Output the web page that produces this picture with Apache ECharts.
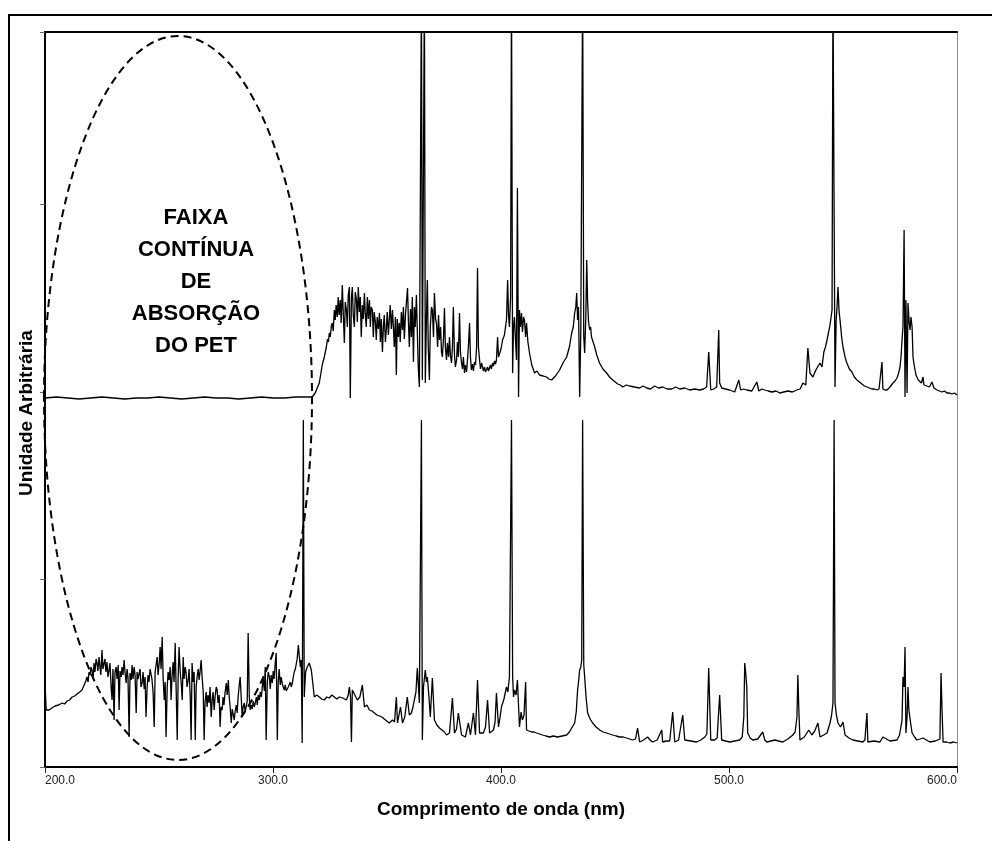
<!DOCTYPE html>
<html>
<head>
<meta charset="utf-8">
<title>Espectro</title>
<script src="https://cdn.jsdelivr.net/npm/echarts@6/dist/echarts.min.js"></script>
<style>
  html, body { margin: 0; padding: 0; background: #fff; }
  #chart { width: 992px; height: 841px; }
</style>
</head>
<body>
<div id="chart"></div>
<script>
// Lamp spectrum seen through the PET film: [wavelength nm, intensity a.u.]
const withPetFilm = [
  [200.0,369],[205,370],[210,369],[215,368],[220,369],[225,370],[230,369],[235,368],[240,369],
  [245,369],[250,370],[255,369],[260,368],[265,369],[270,370],[275,369],[280,369],[285,368],
  [290,369],[295,370],[300,369],[305,369],[310,370],[314,370],[317.2,370],[318.5,374],
  [320.3,384],[321.6,402],[322.5,410],[323.4,420],[323.9,428],[324.3,425],[324.7,434],[325.1,430],
  [325.6,441],[326.0,444],[326.4,436],[326.9,457],[327.3,447],[327.7,462],[328.2,450],[328.6,470],
  [329.0,452],[329.5,467],[329.9,444],[330.4,482],[330.8,455],[331.3,424],[331.7,465],[332.2,457],
  [332.6,440],[333.0,472],[333.5,480],[333.9,369],[334.4,470],[334.8,480],[335.2,452],[335.7,440],
  [336.1,475],[336.6,467],[337.0,445],[337.4,480],[337.9,455],[338.3,470],[338.7,430],[339.2,462],
  [339.6,448],[340.1,474],[340.5,452],[340.9,440],[341.4,470],[341.8,448],[342.3,467],[342.7,440],
  [343.1,460],[343.6,457],[344.0,430],[344.4,455],[344.9,445],[345.3,427],[345.7,450],[346.2,438],
  [346.7,454],[347.1,425],[347.5,448],[348.0,415],[348.4,440],[348.8,452],[349.3,425],[349.7,437],
  [350.1,455],[350.6,432],[351.0,447],[351.4,462],[351.9,438],[352.4,457],[352.8,440],[353.2,420],
  [353.7,450],[354.1,392],[354.5,448],[355.0,430],[355.4,444],[355.8,425],[356.3,455],[356.8,437],
  [357.2,460],[357.6,428],[358.1,452],[358.5,450],[359.0,479],[359.4,445],[359.8,420],[360.3,458],
  [360.7,430],[361.1,470],[361.6,405],[362.0,460],[362.4,440],[362.9,472],[363.3,474],[363.7,400],
  [364.2,380],[365.1,780],[365.5,387],[366.4,780],[366.8,384],[367.3,450],[367.7,487],[368.1,420],
  [368.6,387],[369.0,440],[369.5,460],[369.9,457],[370.4,430],[370.8,474],[371.3,448],[371.7,444],
  [372.2,420],[372.6,452],[373.0,427],[373.5,440],[373.9,415],[374.3,410],[374.8,430],[375.2,459],
  [375.6,420],[376.1,407],[376.5,424],[377.0,410],[377.4,430],[377.8,412],[378.3,404],[378.7,420],
  [379.1,460],[379.6,412],[380.0,400],[380.5,407],[380.9,425],[381.3,410],[381.8,454],[382.2,415],
  [382.7,404],[383.1,398],[383.5,410],[384.0,394],[384.4,402],[384.9,395],[385.3,397],[385.7,420],
  [386.2,444],[386.6,410],[387.0,397],[387.5,403],[387.9,396],[388.4,405],[388.8,402],[389.3,420],
  [389.7,499],[390.1,420],[390.6,407],[391.0,398],[391.5,404],[391.9,404],[392.3,396],[392.8,400],
  [393.2,395],[393.6,397],[394.1,400],[394.5,396],[395.0,397],[395.4,402],[395.8,398],[396.3,404],
  [396.7,401],[397.2,406],[397.6,403],[398.0,407],[398.5,430],[398.9,410],[399.3,412],[400.0,418],
  [400.7,427],[401.5,432],[402.4,447],[402.9,487],[403.3,452],[403.7,440],[404.2,470],[404.6,780],
  [405.1,394],[405.5,440],[405.9,450],[406.3,430],[406.8,407],[407.2,579],[407.7,370],[408.1,457],
  [408.5,440],[409.0,454],[409.4,435],[409.9,450],[410.3,447],[410.8,430],[411.2,444],[411.8,425],
  [412.5,414],[413.5,402],[414.7,394],[415.8,396],[416.9,392],[418.5,391],[420.0,390],[421.0,388],
  [422.2,387],[423.9,391],[425.7,397],[427.4,405],[428.8,410],[430.1,421],[431.0,434],[431.7,440],
  [432.3,454],[432.8,460],[433.2,474],[433.6,447],[434.0,460],[434.5,370],[435.0,437],[435.8,780],
  [436.3,430],[436.7,414],[437.2,450],[437.6,507],[438.0,464],[438.4,445],[438.9,437],[439.3,440],
  [439.7,430],[440.4,425],[441.1,420],[442.0,412],[443.2,404],[444.7,398],[446.3,394],[447.6,390],
  [449.0,387],[450.1,385],[451.2,383],[452.3,382],[453.4,380],[455.0,382],[456.4,381],[458.5,380],
  [460.8,379],[462.3,381],[463.9,379],[465.6,378],[467.4,381],[469.1,379],[470.9,380],[472.9,378],
  [474.9,378],[476.6,380],[478.4,378],[480.6,379],[482.8,377],[485.0,378],[487.2,377],[488.8,378],
  [490.2,380],[491.1,415],[492.0,377],[493.3,378],[494.6,380],[495.5,437],[495.9,384],[496.8,379],
  [498.5,378],[500.3,377],[502.5,375],[504.3,387],[505.1,377],[506.4,378],[507.8,377],[510.0,376],
  [512.2,385],[513.1,376],[514.4,378],[515.7,377],[517.2,376],[518.8,375],[520.6,376],[522.3,374],
  [524.0,375],[525.8,376],[527.8,375],[529.8,377],[531.2,378],[532.4,384],[533.7,382],[534.6,419],
  [535.5,394],[536.8,390],[538.1,397],[539.9,404],[540.8,400],[541.6,415],[542.3,420],[543.0,427],
  [543.7,435],[544.3,442],[545.2,457],[545.6,780],[546.1,780],[546.5,380],[547.0,447],[547.4,460],
  [547.8,480],[548.3,455],[548.7,447],[549.4,430],[550.0,420],[550.9,410],[551.7,404],[552.8,398],
  [553.9,395],[555.0,390],[556.1,387],[557.2,385],[558.3,383],[559.4,381],[560.5,380],[561.6,379],
  [562.7,378],[563.8,378],[564.9,377],[565.8,378],[566.6,379],[567.1,405],[567.5,378],[568.4,377],
  [569.3,377],[570.6,380],[571.9,384],[572.8,386],[573.7,389],[574.4,394],[575.0,400],[575.5,412],
  [575.9,427],[576.3,440],[576.8,537],[577.2,370],[577.6,467],[578.1,374],[578.5,464],[579.0,445],
  [579.4,437],[579.8,450],[580.3,440],[580.7,410],[581.2,402],[581.6,397],[582.0,392],[582.4,390],
  [583.0,387],[583.7,385],[584.4,384],[585.1,390],[585.5,382],[586.2,383],[586.8,381],[587.9,380],
  [589.0,385],[589.9,379],[590.5,378],[591.2,377],[592.3,376],[593.4,375],[594.5,376],[595.6,374],
  [596.7,374],[597.8,373],[598.9,374],[600.0,372]
];

// Unfiltered lamp spectrum: [wavelength nm, intensity a.u.]
const withoutPetFilm = [
  [200.0,85],[200.5,57],[201.8,57],[203.0,59],[204.4,61],[206.0,62],[207.5,64],[208.6,63],
  [209.7,66],[210.8,67],[211.9,70],[213.0,71],[214.1,73],[215.2,75],[216.2,77],[216.8,80],
  [217.4,78],[217.9,86],[218.4,90],[218.9,85],[219.3,95],[219.8,92],[220.2,100],[220.6,97],
  [221.1,88],[221.5,104],[221.9,95],[222.4,108],[222.8,104],[223.2,96],[223.7,110],[224.1,100],
  [224.5,92],[225.0,117],[225.4,98],[225.9,100],[226.3,108],[226.7,95],[227.2,105],[227.6,90],
  [228.1,97],[228.5,104],[229.0,80],[229.4,67],[229.8,98],[230.3,47],[230.7,95],[231.2,100],
  [231.6,88],[232.1,102],[232.5,57],[232.9,96],[233.4,90],[233.8,100],[234.2,92],[234.7,107],
  [235.1,95],[235.6,84],[236.0,98],[236.4,90],[236.9,30],[237.3,94],[237.8,87],[238.2,102],
  [238.6,88],[239.1,100],[239.5,92],[240.0,54],[240.4,95],[240.8,88],[241.3,87],[241.7,98],
  [242.1,80],[242.6,84],[243.0,95],[243.5,78],[243.9,90],[244.3,50],[244.8,80],[245.2,92],
  [245.6,85],[246.1,98],[246.5,100],[246.9,88],[247.4,75],[247.9,40],[248.3,95],[248.7,102],
  [249.2,110],[249.6,92],[250.1,104],[250.5,120],[250.9,98],[251.4,130],[251.8,90],[252.3,67],
  [252.7,85],[253.1,30],[253.6,80],[254.0,95],[254.4,87],[254.9,100],[255.3,67],[255.7,90],
  [256.2,105],[256.6,85],[257.1,124],[257.5,80],[258.0,27],[258.4,90],[258.8,120],[259.3,95],
  [259.7,85],[260.2,67],[260.6,110],[261.0,88],[261.5,100],[261.9,94],[262.3,80],[262.8,87],
  [263.2,98],[263.7,70],[264.1,27],[264.5,104],[265.0,85],[265.4,95],[265.9,27],[266.3,80],
  [266.7,90],[267.2,98],[267.6,87],[268.0,95],[268.5,107],[268.9,90],[269.4,75],[269.8,27],
  [270.2,65],[270.7,75],[271.1,60],[271.5,72],[272.0,64],[272.4,80],[272.9,50],[273.3,66],
  [273.7,75],[274.2,57],[274.6,70],[275.1,80],[275.5,77],[275.9,64],[276.4,72],[276.8,40],
  [277.2,60],[277.7,57],[278.1,70],[278.5,62],[279.0,75],[279.5,84],[279.9,72],[280.4,87],
  [280.8,70],[281.2,60],[281.7,44],[282.1,58],[282.6,52],[283.0,47],[283.4,56],[283.9,62],
  [284.3,54],[284.7,70],[285.2,82],[285.6,90],[286.0,72],[286.5,50],[286.9,60],[287.4,64],
  [287.8,55],[288.3,57],[288.7,66],[289.1,134],[289.6,70],[290.0,57],[290.4,62],[290.9,58],
  [291.3,66],[291.8,60],[292.2,64],[292.7,70],[293.1,62],[293.5,72],[294.0,67],[294.4,75],
  [294.9,70],[295.3,80],[295.7,88],[296.2,76],[296.6,100],[297.0,27],[297.5,85],[297.9,95],
  [298.4,90],[298.8,78],[299.2,92],[299.7,84],[300.1,96],[300.5,88],[301.0,105],[301.4,114],
  [301.9,27],[302.3,85],[302.7,98],[303.2,82],[303.6,90],[304.0,84],[304.5,80],[304.9,77],
  [305.4,82],[305.8,76],[306.3,74],[306.7,80],[307.1,78],[307.6,85],[308.0,80],[308.5,84],
  [308.9,90],[309.3,95],[309.8,98],[310.2,100],[310.6,108],[311.1,122],[311.5,112],[312.0,100],
  [312.4,107],[312.8,24],[313.3,347],[313.7,70],[314.3,95],[315.0,100],[315.9,104],[316.8,97],
  [317.4,85],[318.1,70],[319.2,72],[320.3,70],[321.4,68],[322.5,67],[323.6,70],[324.7,69],
  [325.8,72],[326.9,70],[328.0,68],[329.1,70],[330.6,69],[332.2,67],[333.0,72],[333.5,80],
  [334.0,70],[334.4,25],[334.8,77],[335.9,72],[337.0,67],[338.1,70],[339.2,82],[340.1,60],
  [341.2,62],[342.3,57],[343.4,56],[344.5,54],[345.6,52],[346.7,51],[347.8,50],[348.8,48],
  [349.9,46],[351.0,44],[352.4,47],[353.3,45],[354.1,70],[354.6,44],[355.9,60],[356.8,44],
  [357.8,50],[358.9,70],[359.8,52],[360.7,54],[361.4,60],[362.0,67],[362.7,75],[363.3,99],
  [363.8,80],[364.2,64],[365.1,347],[365.5,27],[366.0,80],[366.8,97],[367.3,85],[367.7,90],
  [368.4,70],[369.0,50],[369.9,89],[370.8,47],[371.9,42],[373.0,39],[374.1,37],[375.2,35],
  [376.1,32],[377.4,34],[378.7,69],[379.6,34],[380.5,38],[381.3,54],[382.7,32],[384.4,30],
  [385.7,44],[386.6,32],[387.9,54],[388.8,32],[389.7,87],[390.6,34],[391.4,36],[392.3,34],
  [393.2,40],[394.1,67],[395.0,34],[396.7,37],[397.4,45],[398.0,74],[398.9,40],[399.6,50],
  [400.2,60],[401.3,68],[402.4,80],[403.0,75],[403.7,90],[404.6,347],[405.1,90],[405.5,70],
  [405.9,77],[406.6,72],[407.2,87],[408.1,40],[408.8,55],[409.4,47],[410.1,52],[410.8,85],
  [411.2,37],[412.3,36],[413.4,35],[414.5,35],[415.6,34],[416.9,33],[418.2,32],[419.7,31],
  [421.3,30],[423.0,31],[424.8,30],[426.8,31],[428.8,32],[430.0,35],[431.0,39],[432.3,44],
  [433.0,55],[433.6,77],[434.0,85],[434.5,97],[435.0,100],[435.4,107],[435.8,347],[436.3,102],
  [436.7,90],[437.3,70],[438.0,54],[439.1,48],[440.2,44],[441.7,40],[443.3,37],[444.8,35],
  [446.3,34],[447.6,33],[449.0,32],[450.5,31],[452.1,30],[453.6,30],[455.1,29],[456.4,28],
  [457.7,27],[459.0,28],[459.9,39],[460.8,25],[462.5,27],[464.3,30],[465.4,27],[466.5,25],
  [468.5,27],[470.5,37],[470.9,25],[472.5,26],[474.0,26],[475.3,55],[476.2,25],[477.9,27],
  [479.7,52],[480.6,27],[483.2,26],[485.8,25],[487.6,27],[489.4,30],[490.3,33],[491.1,99],
  [492.0,27],[493.7,27],[494.8,29],[495.9,72],[496.8,27],[498.5,26],[500.3,25],[502.5,26],
  [504.7,27],[505.8,30],[506.5,50],[506.9,104],[507.3,95],[507.8,80],[508.2,34],[509.3,29],
  [510.4,27],[512.6,28],[514.8,35],[515.7,27],[516.6,25],[518.4,26],[520.1,27],[521.8,26],
  [523.6,25],[525.8,28],[528.0,32],[529.0,35],[529.8,50],[530.2,92],[530.6,60],[531.1,27],
  [533.0,30],[535.0,37],[536.3,32],[537.6,36],[539.0,44],[539.9,30],[541.5,32],[543.0,34],
  [544.3,44],[545.0,52],[545.6,64],[546.1,347],[546.5,64],[547.1,52],[547.8,44],[548.9,40],
  [550.0,45],[550.9,32],[552.6,29],[554.3,27],[556.5,26],[558.7,25],[559.6,27],[560.5,54],
  [560.9,25],[563.5,26],[566.2,25],[567.5,30],[570.6,26],[573.7,27],[574.8,32],[575.9,47],
  [576.3,90],[576.8,80],[577.2,120],[577.6,34],[578.1,50],[578.5,80],[578.9,57],[579.6,45],
  [580.3,34],[581.4,30],[582.4,27],[583.8,28],[585.1,29],[586.6,27],[588.1,25],[590.5,26],
  [592.5,28],[593.0,94],[593.4,60],[593.9,25],[595.4,25],[596.9,24],[598.5,25],[600.0,24]
];

// Wavelength axis range and tick spacing (nm)
const wavelengthRange = [200, 600];
const wavelengthStep = 100;
// Intensity axis range and tick spacing (arbitrary units)
const intensityRange = [0, 735];
const intensityStep = 187.5;

// Axis titles and the annotation inside the dashed ellipse
const xTitle = 'Comprimento de onda (nm)';
const yTitle = 'Unidade Arbitrária';
const bandLabel = ['FAIXA', 'CONTÍNUA', 'DE', 'ABSORÇÃO', 'DO PET'];

const FONT = '"Liberation Sans", Arial, Helvetica, sans-serif';

const chart = echarts.init(document.getElementById('chart'), null, { renderer: 'canvas' });

const plotLeft = 45, plotTop = 32, plotRight = 957, plotBottom = 767;

const graphics = [
  // outer frame (top and left edges)
  {
    type: 'polyline', silent: true, z: 10,
    shape: { points: [[9, 841], [9, 15], [992, 15]] },
    style: { fill: null, stroke: '#000', lineWidth: 2 }
  },
  // dashed ellipse marking the PET absorption band
  {
    type: 'ellipse', silent: true, z: 20,
    shape: { cx: 178, cy: 398, rx: 134, ry: 362 },
    style: { fill: null, stroke: '#000', lineWidth: 2, lineDash: [8, 5] }
  },
  // y axis title
  {
    type: 'text', silent: true, z: 20,
    x: 27, y: 413, rotation: Math.PI / 2,
    style: {
      text: yTitle, font: 'bold 19px ' + FONT, fill: '#000',
      align: 'center', verticalAlign: 'middle',
      textAlign: 'center', textVerticalAlign: 'middle'
    }
  },
  // x axis title
  {
    type: 'text', silent: true, z: 20,
    x: (plotLeft + plotRight) / 2, y: 810,
    style: {
      text: xTitle, font: 'bold 19px ' + FONT, fill: '#000',
      align: 'center', verticalAlign: 'middle',
      textAlign: 'center', textVerticalAlign: 'middle'
    }
  }
];

bandLabel.forEach(function (line, i) {
  graphics.push({
    type: 'text', silent: true, z: 20,
    x: 196, y: 218 + i * 32,
    style: {
      text: line, font: 'bold 22px ' + FONT, fill: '#000',
      align: 'center', verticalAlign: 'middle',
      textAlign: 'center', textVerticalAlign: 'middle'
    }
  });
});

const option = {
  animation: false,
  backgroundColor: '#fff',
  grid: {
    left: plotLeft, top: plotTop,
    right: 992 - plotRight, bottom: 841 - plotBottom,
    containLabel: false
  },
  xAxis: [
    {
      type: 'value',
      min: wavelengthRange[0], max: wavelengthRange[1], interval: wavelengthStep,
      axisLine: { show: true, onZero: false, lineStyle: { color: '#000', width: 2 } },
      axisTick: { show: true, inside: false, length: 6, lineStyle: { color: '#222', width: 1 } },
      axisLabel: {
        show: true, margin: 8, color: '#222', fontSize: 12, fontFamily: FONT,
        alignMinLabel: 'left', alignMaxLabel: 'right',
        formatter: function (v) { return v.toFixed(1); }
      },
      splitLine: { show: false }
    },
    {
      type: 'value', position: 'top',
      min: wavelengthRange[0], max: wavelengthRange[1],
      axisLine: { show: true, onZero: false, lineStyle: { color: '#000', width: 2 } },
      axisTick: { show: false }, axisLabel: { show: false }, splitLine: { show: false }
    }
  ],
  yAxis: [
    {
      type: 'value',
      min: intensityRange[0], max: intensityRange[1], interval: intensityStep,
      axisLine: { show: true, onZero: false, lineStyle: { color: '#000', width: 2 } },
      axisTick: { show: true, inside: false, length: 5, lineStyle: { color: '#666', width: 1 } },
      axisLabel: { show: false },
      splitLine: { show: false }
    },
    {
      type: 'value', position: 'right',
      min: intensityRange[0], max: intensityRange[1],
      axisLine: { show: true, onZero: false, lineStyle: { color: '#888', width: 1 } },
      axisTick: { show: false }, axisLabel: { show: false }, splitLine: { show: false }
    }
  ],
  series: [
    {
      name: 'Com PET', type: 'line', xAxisIndex: 0, yAxisIndex: 0,
      data: withPetFilm, showSymbol: false, clip: true,
      lineStyle: { color: '#000', width: 1.3 }
    },
    {
      name: 'Sem PET', type: 'line', xAxisIndex: 0, yAxisIndex: 0,
      data: withoutPetFilm, showSymbol: false, clip: true,
      lineStyle: { color: '#000', width: 1.3 }
    }
  ],
  graphic: graphics
};

chart.setOption(option);
</script>
</body>
</html>
